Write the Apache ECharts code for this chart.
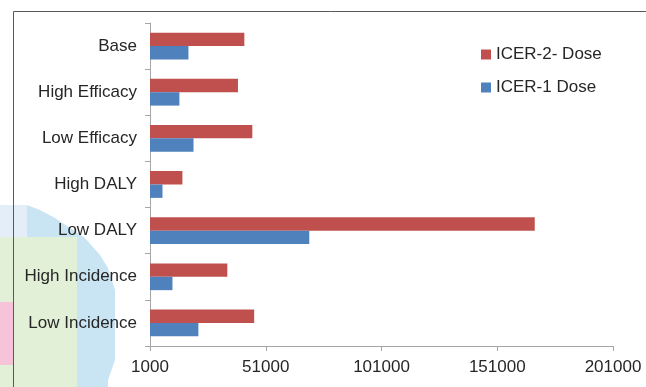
<!DOCTYPE html>
<html>
<head>
<meta charset="utf-8">
<script src="https://cdn.jsdelivr.net/npm/echarts@6/dist/echarts.min.js"></script>
<style>
html, body { margin: 0; padding: 0; background: #fff; }
#chart { width: 646px; height: 387px; }
</style>
</head>
<body>
<div id="chart"></div>
<script>
// scenarios, top to bottom
var categories = ['Base', 'High Efficacy', 'Low Efficacy', 'High DALY', 'Low DALY', 'High Incidence', 'Low Incidence'];
var icer2Dose = [41750, 39000, 45200, 15000, 167200, 34400, 46000];
var icer1Dose = [17600, 13700, 19800, 6400, 69800, 10700, 21900];
var xTicks = [1000, 51000, 101000, 151000, 201000];

var font = 'Liberation Sans, Arial, sans-serif';
var axisGray = '#a6a6a6';

var myChart = echarts.init(document.getElementById('chart'));
myChart.setOption({
	backgroundColor: '#fff',
	textStyle: { fontFamily: font },
	animation: false,
	graphic: [
		// smudge in the lower-left corner of the original picture
		{ type: 'polygon', z: -20, silent: true,
		  shape: { points: [[0,205],[27,205],[40,210],[55,218],[70,228],[85,238],[100,255],[108,268],[115,290],[115,360],[108,380],[108,387],[0,387]] },
		  style: { fill: '#c9e4f3' } },
		{ type: 'rect', z: -19, silent: true,
		  shape: { x: 0, y: 205, width: 27, height: 32 },
		  style: { fill: '#e4eef8' } },
		{ type: 'rect', z: -18, silent: true,
		  shape: { x: 0, y: 237, width: 77, height: 150 },
		  style: { fill: '#e3f0d8' } },
		{ type: 'rect', z: -17, silent: true,
		  shape: { x: 0, y: 302, width: 13, height: 63 },
		  style: { fill: '#f6c3d9' } },
		// chart area border
		{ type: 'rect', z: -5, silent: true,
		  shape: { x: 13.5, y: 11.5, width: 700, height: 500 },
		  style: { fill: null, stroke: '#595959', lineWidth: 1 } }
	],
	legend: {
		orient: 'vertical',
		left: 481,
		top: 46,
		padding: 0,
		itemWidth: 10,
		itemHeight: 10,
		itemGap: 16,
		icon: 'rect',
		data: ['ICER-2- Dose', 'ICER-1 Dose'],
		textStyle: { fontSize: 17, color: '#262626' }
	},
	grid: { left: 150, right: 33, top: 23, bottom: 41 },
	xAxis: {
		type: 'value',
		min: xTicks[0],
		max: xTicks[xTicks.length - 1],
		interval: 50000,
		splitLine: { show: false },
		axisLine: { show: true, lineStyle: { color: axisGray } },
		axisTick: { show: true, length: 5, lineStyle: { color: axisGray } },
		axisLabel: {
			fontSize: 17, color: '#262626', margin: 13,
			formatter: function (v) { return String(v); }
		}
	},
	yAxis: {
		type: 'category',
		inverse: true,
		data: categories,
		axisLine: { show: true, lineStyle: { color: axisGray } },
		axisTick: { show: true, length: 5, interval: 0, lineStyle: { color: axisGray } },
		axisLabel: { fontSize: 17, color: '#262626', margin: 13, interval: 0 }
	},
	series: [
		{
			name: 'ICER-2- Dose',
			type: 'bar',
			data: icer2Dose,
			barGap: '0%',
			barCategoryGap: '42%',
			itemStyle: { color: '#c0504d' }
		},
		{
			name: 'ICER-1 Dose',
			type: 'bar',
			data: icer1Dose,
			itemStyle: { color: '#4f81bd' }
		}
	]
});
</script>
</body>
</html>
